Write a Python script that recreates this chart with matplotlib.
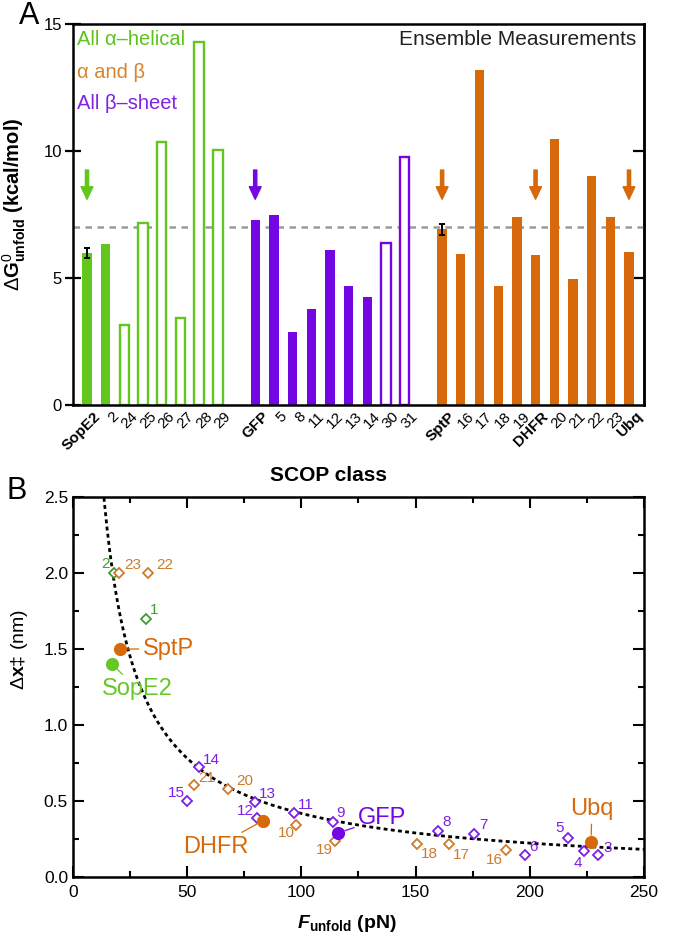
import numpy as np
import matplotlib
matplotlib.use("Agg")
import matplotlib.pyplot as plt
from matplotlib.ticker import MultipleLocator
import matplotlib.transforms as mtransforms

plt.rcParams['font.family'] = ['Liberation Sans', 'DejaVu Sans']
plt.rcParams['mathtext.fontset'] = 'custom'
plt.rcParams['mathtext.rm'] = 'Liberation Sans'
plt.rcParams['mathtext.bf'] = 'Liberation Sans:bold'
plt.rcParams['mathtext.it'] = 'Liberation Sans:italic'
plt.rcParams['mathtext.bfit'] = 'Liberation Sans:italic:bold'

# ---------------- Panel A data ----------------
labels_A = ['SopE2', '2', '24', '25', '26', '27', '28', '29',
            'GFP', '5', '8', '11', '12', '13', '14', '30', '31',
            'SptP', '16', '17', '18', '19', 'DHFR', '20', '21', '22', '23', 'Ubq']
values_A = [5.97, 6.33, 3.16, 7.16, 10.37, 3.42, 14.28, 10.04,
            7.30, 7.49, 2.89, 3.77, 6.09, 4.70, 4.24, 6.38, 9.76,
            6.91, 5.96, 13.20, 4.70, 7.41, 5.89, 10.49, 4.96, 9.01, 7.41, 6.03]
classes_A = ['a'] * 8 + ['b'] * 9 + ['ab'] * 11
filled_A = [1, 1, 0, 0, 0, 0, 0, 0,
            1, 1, 1, 1, 1, 1, 1, 0, 0,
            1, 1, 1, 1, 1, 1, 1, 1, 1, 1, 1]
errors_A = {'SopE2': 0.2, 'SptP': 0.22}
measured_A = ['SopE2', 'GFP', 'SptP', 'DHFR', 'Ubq']
ensemble_mean = 7.0

# ---------------- Panel B data ----------------
pt_labels = ['1', '2', '3', '4', '5', '6', '7', '8', '9', '10', '11', '12',
             '13', '14', '15', '16', '17', '18', '19', '20', '21', '22', '23']
pt_force = [31.9, 17.9, 229.7, 223.6, 216.7, 197.8, 175.8, 160.0, 113.7, 97.7,
            96.7, 80.6, 79.9, 55.0, 49.9, 189.8, 164.6, 150.8, 114.8, 68.0,
            52.8, 32.9, 20.2]
pt_dx = [1.70, 2.00, 0.145, 0.17, 0.255, 0.145, 0.28, 0.305, 0.36, 0.34,
         0.42, 0.385, 0.495, 0.725, 0.50, 0.18, 0.215, 0.22, 0.24, 0.58,
         0.605, 2.00, 2.00]
pt_class = ['a', 'a', 'b', 'b', 'b', 'b', 'b', 'b', 'b', 'ab', 'b', 'b',
            'b', 'b', 'b', 'ab', 'ab', 'ab', 'ab', 'ab', 'ab', 'ab', 'ab']

sm_labels = ['SopE2', 'SptP', 'DHFR', 'GFP', 'Ubq']
sm_force = [17.2, 20.5, 83.1, 116.2, 226.8]
sm_dx = [1.40, 1.50, 0.37, 0.29, 0.23]
sm_class = ['a', 'ab', 'ab', 'b', 'ab']

# guide curve parameters (dx = (A + B ln F) / F)
fit_A, fit_B = 23.4, 4.0

# ---------------- styles ----------------
colA = {'a': '#62c61c', 'b': '#7406e3', 'ab': '#d7690a'}
col_pt = {'a': '#3a9e32', 'b': '#7d1fe6', 'ab': '#cf7a2c'}
col_sm = {'a': '#66c828', 'b': '#7406e3', 'ab': '#d7690a'}

lbl_off = {'1': (8, 9), '2': (-8, 9), '3': (10, 7), '4': (-6, -12), '5': (-8, 10),
           '6': (9, 8), '7': (9, 9), '8': (8, 9), '9': (8, 9), '10': (-10, -8),
           '11': (12, 8), '12': (-12, 7), '13': (12, 8), '14': (13, 7), '15': (-11, 8),
           '16': (-12, -10), '17': (12, -11), '18': (12, -10), '19': (-11, -9),
           '20': (16, 8), '21': (13, 7), '22': (17, 8), '23': (14, 8)}
sm_off = {'SopE2': (25, -25, 'center'), 'SptP': (23, 0, 'left'),
          'DHFR': (-47, -26, 'center'), 'GFP': (44, 15, 'center'),
          'Ubq': (1, 33, 'center')}

fig = plt.figure(figsize=(6.77, 9.40), dpi=100)
axA = fig.add_axes([0.1078, 0.5691, 0.8434, 0.4054])
axB = fig.add_axes([0.1078, 0.0670, 0.8434, 0.4043])

# ================= Panel A =================
grp_index = {'a': 0, 'b': 1, 'ab': 2}
pos = np.arange(len(labels_A)) + np.array([grp_index[c] for c in classes_A])
for p, v, c, f in zip(pos, values_A, classes_A, filled_A):
    if f:
        axA.bar(p, v, width=0.5, color=colA[c], edgecolor='none', zorder=2)
    else:
        axA.bar(p, v, width=0.5, facecolor='white', edgecolor=colA[c],
                linewidth=1.7, zorder=2)

for name, e in errors_A.items():
    i = labels_A.index(name)
    axA.errorbar(pos[i], values_A[i], yerr=e, fmt='none', ecolor='black',
                 elinewidth=1.4, capsize=2.5, capthick=1.4, zorder=4)

axA.axhline(ensemble_mean, color='#9a9a9a', lw=1.8, ls=(0, (2.6, 2.2)), zorder=1)

for name in measured_A:
    i = labels_A.index(name)
    c = colA[classes_A[i]]
    axA.annotate('', xy=(pos[i], 8.1), xytext=(pos[i], 9.25),
                 arrowprops=dict(width=2.3, headwidth=8.5, headlength=9,
                                 color=c, shrink=0), zorder=3)

axA.set_xlim(-0.75, 29.8)
axA.set_ylim(0, 15)
axA.set_yticks([0, 5, 10, 15])
axA.tick_params(axis='y', which='both', direction='inout', length=12, width=1.6,
                labelsize=12, pad=2)
axA.tick_params(axis='x', length=0, pad=3)
axA.set_xticks(pos)
axA.set_xticklabels(labels_A, rotation=45, ha='right', rotation_mode='anchor',
                    fontsize=11)
offset = mtransforms.ScaledTranslation(0.06, 0, fig.dpi_scale_trans)
for t, name in zip(axA.get_xticklabels(), labels_A):
    t.set_transform(t.get_transform() + offset)
    if name in measured_A:
        t.set_fontweight('bold')
axR = axA.secondary_yaxis('right')
axR.set_yticks([5, 10])
axR.tick_params(direction='in', length=8, width=1.6, labelright=False)
for s in axA.spines.values():
    s.set_linewidth(1.8)
axR.spines['right'].set_linewidth(1.8)

axA.set_ylabel(r'$\Delta\mathbf{G}^{0}_{\mathbf{unfold}}$ (kcal/mol)',
               fontsize=14.5, fontweight='bold')
axA.yaxis.set_label_coords(-0.078, 0.527)
axA.set_xlabel('SCOP class', fontsize=15, fontweight='bold')
axA.xaxis.set_label_coords(0.448, -0.16)

axA.text(0.007, 0.958, 'All α–helical', transform=axA.transAxes, color='#5cc21c',
         fontsize=14.5, va='center', ha='left')
axA.text(0.007, 0.872, 'α and β', transform=axA.transAxes, color='#d8842e',
         fontsize=14.5, va='center', ha='left')
axA.text(0.007, 0.79, 'All β–sheet', transform=axA.transAxes, color='#8023e4',
         fontsize=14.5, va='center', ha='left')
axA.text(0.986, 0.958, 'Ensemble Measurements', transform=axA.transAxes,
         color='#222222', fontsize=15, va='center', ha='right')

fig.text(0.028, 0.983, 'A', fontsize=22, va='center', ha='left')
fig.text(0.010, 0.478, 'B', fontsize=22, va='center', ha='left')

# ================= Panel B =================
F = np.linspace(12, 250, 400)
axB.plot(F, (fit_A + fit_B * np.log(F)) / F, color='black', lw=2.0,
         ls=(0, (1.4, 1.2)), zorder=2)

for lab, x, y, c in zip(pt_labels, pt_force, pt_dx, pt_class):
    axB.plot(x, y, marker='D', ms=5.5, mfc='white', mec=col_pt[c], mew=1.3,
             ls='none', zorder=3)
    axB.annotate(lab, (x, y), xytext=lbl_off[lab], textcoords='offset pixels',
                 ha='center', va='center', fontsize=11, color=col_pt[c], zorder=3)

for lab, x, y, c in zip(sm_labels, sm_force, sm_dx, sm_class):
    axB.plot(x, y, marker='o', ms=9.5, color=col_sm[c], mec='none', ls='none',
             zorder=5)
    dx, dy, ha = sm_off[lab]
    axB.annotate(lab, (x, y), xytext=(dx, dy), textcoords='offset pixels',
                 ha=ha, va='center', fontsize=17, color=col_sm[c], zorder=5,
                 arrowprops=dict(arrowstyle='-', color=col_sm[c], lw=0.9,
                                 shrinkA=1, shrinkB=5))

axB.set_xlim(0, 250)
axB.set_ylim(0, 2.5)
axB.xaxis.set_major_locator(MultipleLocator(50))
axB.xaxis.set_minor_locator(MultipleLocator(25))
axB.yaxis.set_major_locator(MultipleLocator(0.5))
axB.yaxis.set_minor_locator(MultipleLocator(0.25))
axB.yaxis.set_major_formatter(matplotlib.ticker.FormatStrFormatter('%.1f'))
axB.tick_params(which='both', direction='in', top=True, right=True, width=1.5,
                labelsize=12.5)
axB.tick_params(which='major', length=8)
axB.tick_params(which='minor', length=4.5)
axB.tick_params(axis='x', pad=6)
for s in axB.spines.values():
    s.set_linewidth(1.8)

axB.set_ylabel('Δ$\\mathbf{x}$‡ (nm)', fontsize=14)
axB.yaxis.set_label_coords(-0.075, 0.60)
axB.set_xlabel(r'$\mathbfit{F}_{\mathbf{unfold}}$ (pN)', fontsize=14,
               fontweight='bold')
axB.xaxis.set_label_coords(0.48, -0.095)

fig.savefig('out.png', dpi=100)
